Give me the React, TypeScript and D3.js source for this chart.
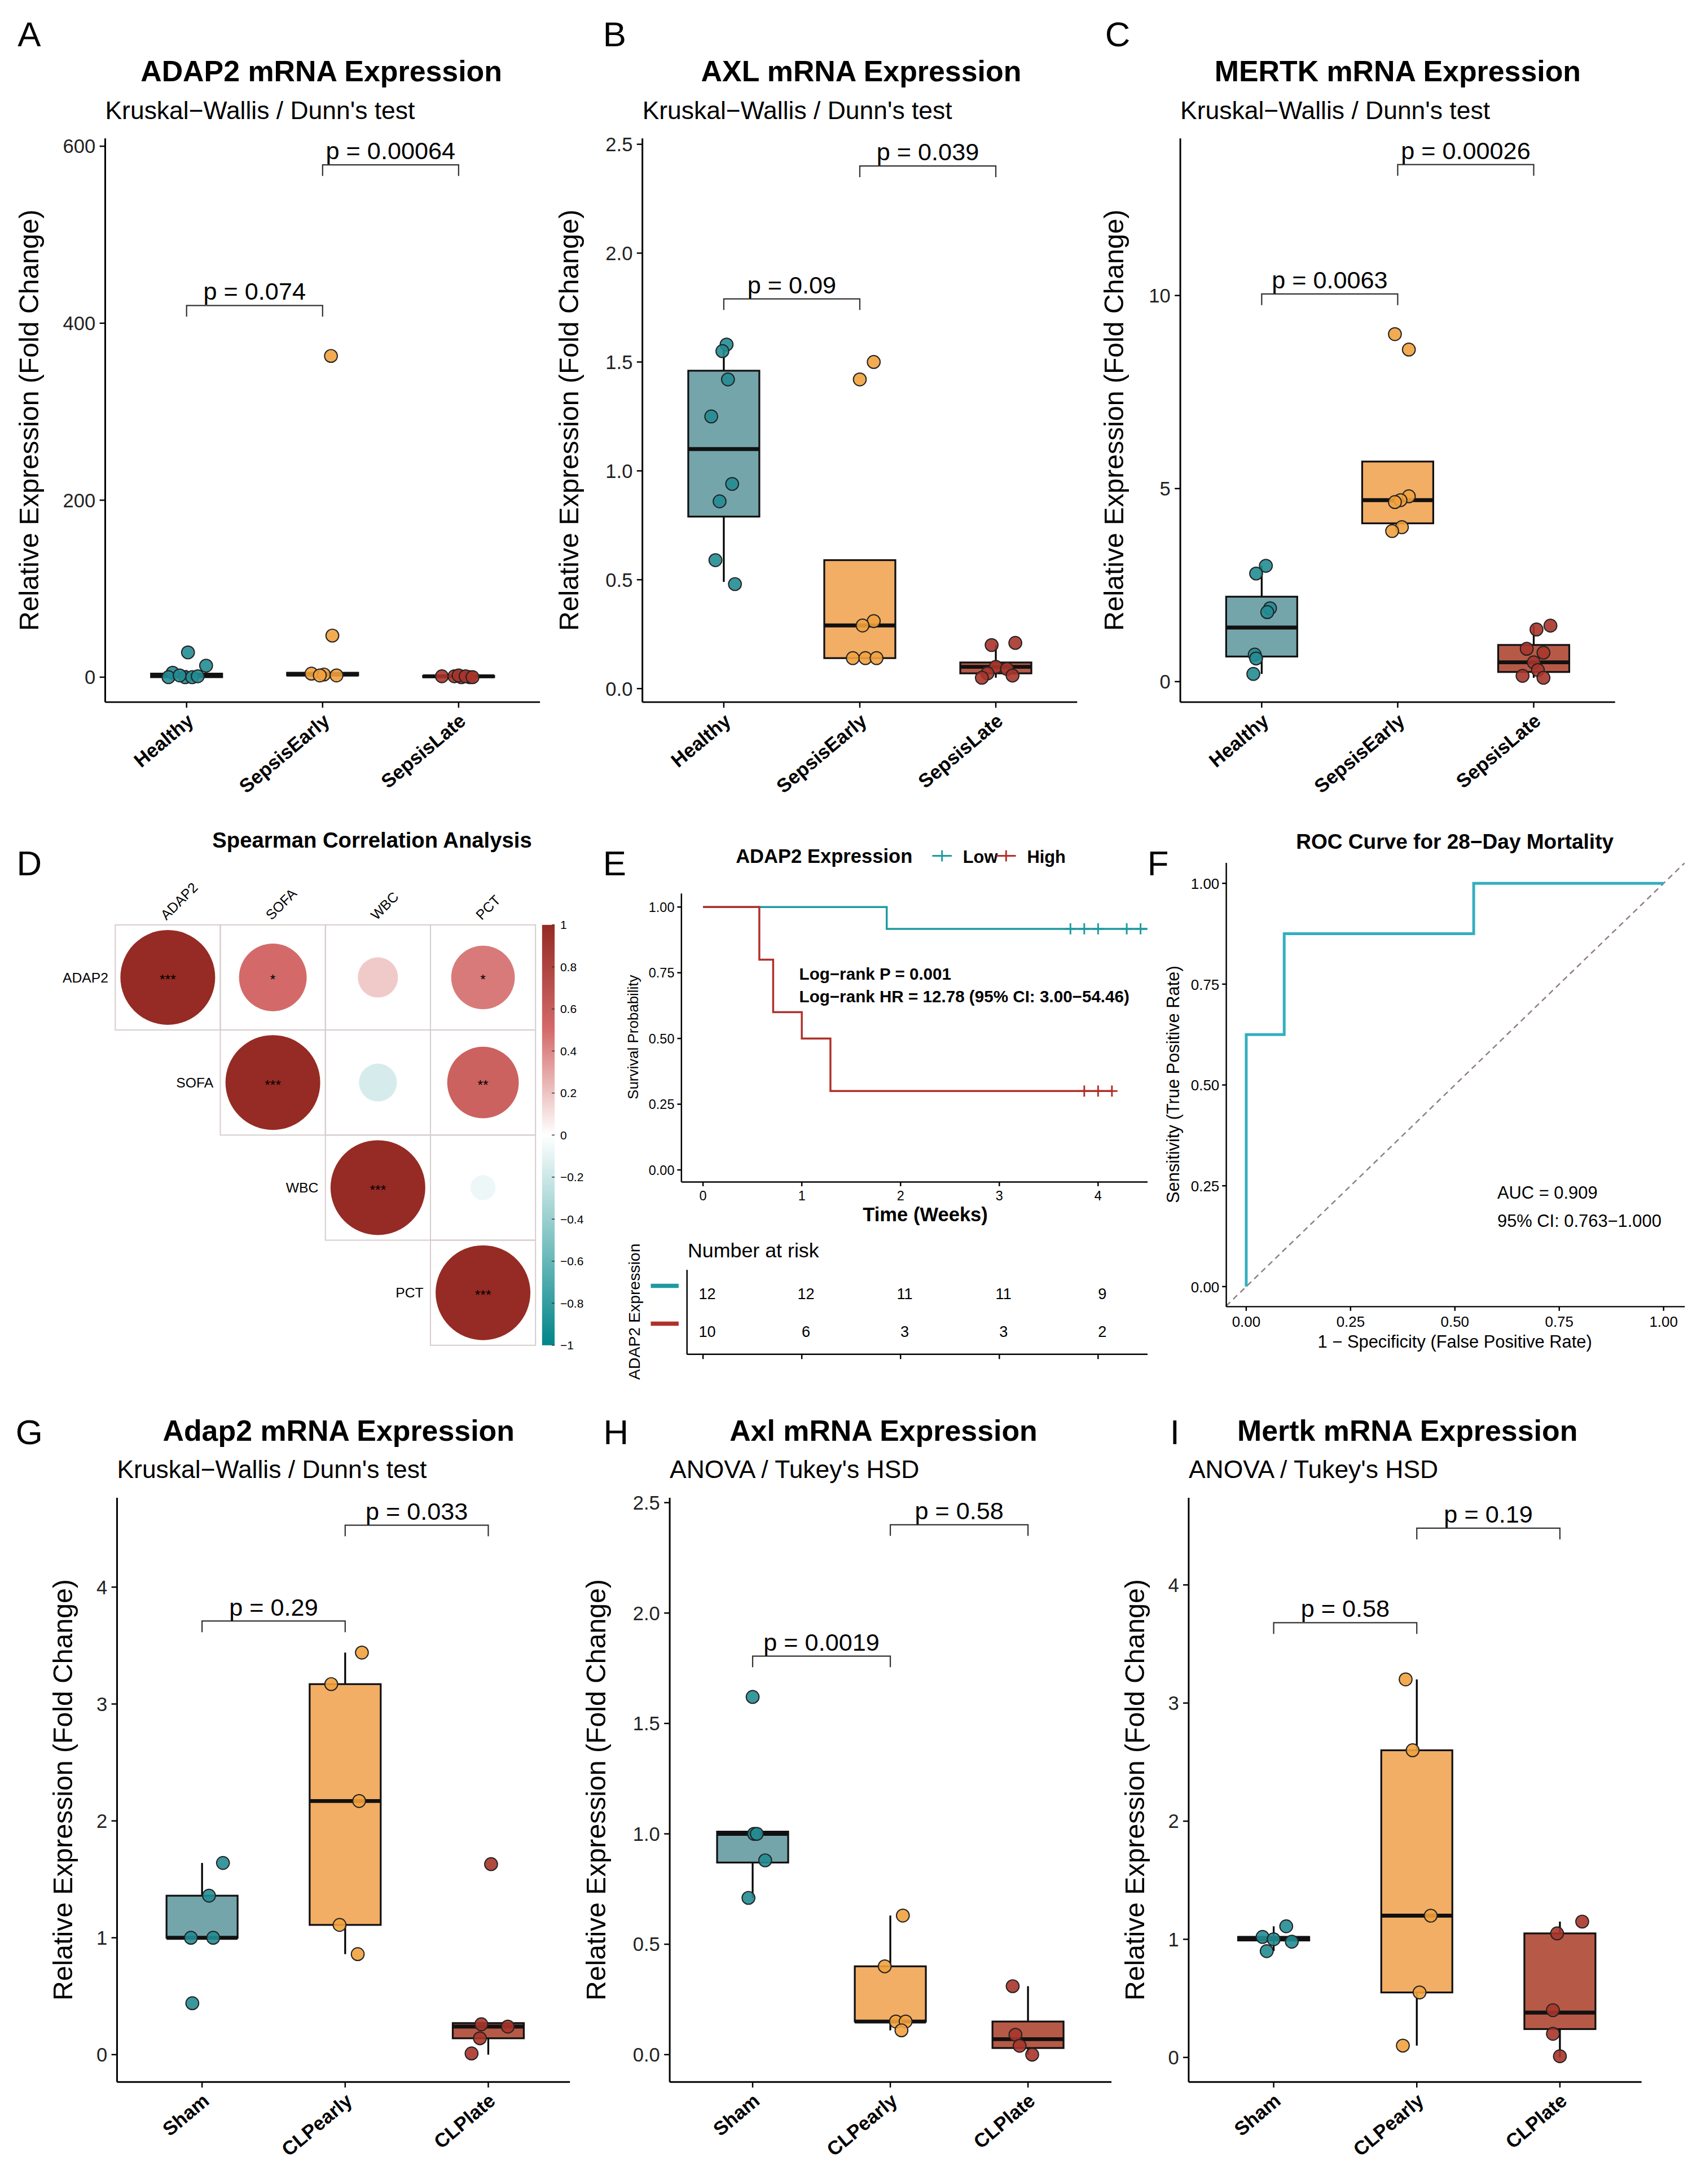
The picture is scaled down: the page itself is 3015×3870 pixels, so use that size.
import React from "react";
import * as d3 from "d3";

const FONT = "Liberation Sans, Arial, Helvetica, sans-serif";
const FILL = ["#74a5ab", "#f2ae65", "#b65a47"];
const PT = ["#248c94", "#f2a23e", "#a8352b"];

// ---------------- data ----------------
const catsHuman = ["Healthy", "SepsisEarly", "SepsisLate"];
const catsMouse = ["Sham", "CLPearly", "CLPlate"];

const adap2HumanPts = [[28, 13, 5, 0, 0, 0, 1, 2], [363, 47, 4, 3, 2, 2], [1, 1, 0, 0, 2, 1, 0]];
const adap2HumanDx = [[1, 14, -10, -13, -1, 4, 8, -5], [6, 7, -8, 1, 10, -2], [-12, -3, 2, 8, 0, 5, 10]];
const adap2HumanBox = [[0, 2, 4, 0, 8], [2, 3, 5, 1, 6], [0, 1, 1.5, 0, 2]];
const axlHumanPts = [[1.58, 1.55, 1.42, 1.25, 0.94, 0.86, 0.59, 0.48], [1.5, 1.42, 0.31, 0.29, 0.14, 0.14, 0.14], [0.21, 0.2, 0.1, 0.09, 0.07, 0.05, 0.06]];
const axlHumanDx = [[2, -1, 3, -9, 6, -3, -6, 8], [10, 0, 10, 2, -5, 4, 12], [14, -3, 0, 8, -6, -10, 12]];
const axlHumanBox = [[0.79, 1.1, 1.46, 0.49, 1.58], [0.14, 0.29, 0.59, 0.14, 0.59], [0.07, 0.1, 0.12, 0.05, 0.2]];
const mertkHumanPts = [[3.0, 2.8, 1.9, 1.8, 0.7, 0.6, 0.2], [9.0, 8.6, 4.8, 4.7, 4.65, 4.0, 3.9], [1.45, 1.35, 0.85, 0.75, 0.5, 0.3, 0.15, 0.1]];
const mertkHumanDx = [[3, -4, 6, 4, -5, -4, -6], [-2, 8, 8, 2, -2, 3, -4], [12, 2, -5, 7, 0, 3, -8, 7]];
const mertkHumanBox = [[0.65, 1.4, 2.2, 0.2, 3.0], [4.1, 4.7, 5.7, 3.9, 5.7], [0.25, 0.5, 0.95, 0.1, 1.45]];

const adap2MousePts = [[1.64, 1.36, 1.0, 1.0, 0.44], [3.44, 3.17, 2.17, 1.11, 0.86], [1.63, 0.26, 0.24, 0.14, 0.01]];
const adap2MouseDx = [[15, 5, -8, 8, -7], [12, -10, 10, -4, 9], [2, -5, 14, -6, -12]];
const adap2MouseBox = [[1.0, 1.0, 1.36, 1.0, 1.64], [1.11, 2.17, 3.17, 0.86, 3.44], [0.14, 0.24, 0.27, 0.0, 0.27]];
const axlMousePts = [[1.62, 1.0, 1.0, 0.88, 0.71], [0.63, 0.4, 0.15, 0.15, 0.11], [0.31, 0.09, 0.04, 0.0]];
const axlMouseDx = [[0, 1, 3, 9, -3], [9, -4, 4, 11, 8], [-11, -9, -6, 3]];
const axlMouseBox = [[0.87, 1.0, 1.01, 0.71, 1.01], [0.15, 0.15, 0.4, 0.11, 0.63], [0.03, 0.07, 0.15, 0.0, 0.31]];
const mertkMousePts = [[1.11, 1.02, 1.0, 0.98, 0.9], [3.2, 2.6, 1.2, 0.55, 0.1], [1.15, 1.05, 0.4, 0.2, 0.01]];
const mertkMouseDx = [[9, -8, 0, 13, -5], [-8, -3, 10, 2, -10], [16, -2, -5, -5, 0]];
const mertkMouseBox = [[0.99, 1.01, 1.02, 0.9, 1.11], [0.55, 1.2, 2.6, 0.1, 3.2], [0.24, 0.38, 1.05, 0.0, 1.15]];

const corrVars = ["ADAP2", "SOFA", "WBC", "PCT"];
const corrValues = [
  [1, 0.51, 0.18, 0.45],
  [0.51, 1, -0.16, 0.57],
  [0.18, -0.16, 1, -0.07],
  [0.45, 0.57, -0.07, 1],
];
const corrStars = [
  ["***", "*", "", "*"],
  ["*", "***", "", "**"],
  ["", "", "***", ""],
  ["*", "**", "", "***"],
];
const colorbarTicks = [1, 0.8, 0.6, 0.4, 0.2, 0, -0.2, -0.4, -0.6, -0.8, -1];

const kmLowTimes = [0, 1.86, 4.5];
const kmLowSurv = [1, 0.917, 0.917];
const kmLowCensor = [3.72, 3.86, 4.0, 4.29, 4.43];
const kmHighTimes = [0, 0.57, 0.71, 1.0, 1.29, 4.14];
const kmHighSurv = [1, 0.8, 0.6, 0.5, 0.3, 0.3];
const kmHighCensor = [3.86, 4.0, 4.14];
const riskTimes = [0, 1, 2, 3, 4];
const riskLow = [12, 12, 11, 11, 9];
const riskHigh = [10, 6, 3, 3, 2];

const rocFpr = [0, 0, 0.091, 0.091, 0.545, 0.545, 1];
const rocTpr = [0, 0.625, 0.625, 0.875, 0.875, 1, 1];
const rocTicks = [0, 0.25, 0.5, 0.75, 1];

// ---------------- components ----------------
type BoxProps = {
  letter: string; letterX: number; title: string; subtitle: string; cats: string[];
  pts: number[][]; dx: number[][]; box: number[][];
  axisX: number; axisTop: number; axisBottom: number; axisLen: number;
  catOff: number; catStep: number;
  y0: number; yTopVal: number; yTopPx: number; ticks: number[]; fmt: (v: number) => string;
  brackets: { a: number; b: number; v: number; label: string }[];
  ylabOff: number; titleX: number; letterY: number;
};

function BoxPanel(p: BoxProps) {
  const y = d3.scaleLinear().domain([0, p.yTopVal]).range([p.y0, p.yTopPx]);
  const x = (i: number) => p.axisX + p.catOff + i * p.catStep;
  const bw = 51;
  return (
    <g fontFamily={FONT}>
      <text x={p.letterX} y={p.letterY} fontSize={25} textAnchor="middle">{p.letter}</text>
      <text x={p.titleX} y={p.axisTop - 41} fontSize={21} fontWeight="bold" textAnchor="middle">{p.title}</text>
      <text x={p.axisX} y={p.axisTop - 14} fontSize={18}>{p.subtitle}</text>
      <line x1={p.axisX} x2={p.axisX} y1={p.axisTop} y2={p.axisBottom} stroke="#000" strokeWidth={1.2} />
      <line x1={p.axisX} x2={p.axisX + p.axisLen} y1={p.axisBottom} y2={p.axisBottom} stroke="#000" strokeWidth={1.2} />
      {p.ticks.map((t) => (
        <g key={t}>
          <line x1={p.axisX - 4} x2={p.axisX} y1={y(t)} y2={y(t)} stroke="#000" />
          <text x={p.axisX - 7} y={y(t) + 5} fontSize={14} textAnchor="end" fill="#222">{p.fmt(t)}</text>
        </g>
      ))}
      <text transform={`translate(${p.axisX - p.ylabOff},${(p.axisTop + p.axisBottom) / 2}) rotate(-90)`} fontSize={19.5} textAnchor="middle">Relative Expression (Fold Change)</text>
      {p.cats.map((c, i) => (
        <g key={c}>
          <line x1={x(i)} x2={x(i)} y1={p.axisBottom} y2={p.axisBottom + 4} stroke="#000" />
          <text transform={`translate(${x(i) + 6},${p.axisBottom + 15}) rotate(-40)`} fontSize={14} fontWeight="bold" textAnchor="end">{c}</text>
        </g>
      ))}
      {p.box.map((b, i) => (
        <g key={i}>
          <line x1={x(i)} x2={x(i)} y1={y(b[3])} y2={y(b[0])} stroke="#000" strokeWidth={1.3} />
          <line x1={x(i)} x2={x(i)} y1={y(b[2])} y2={y(b[4])} stroke="#000" strokeWidth={1.3} />
          <rect x={x(i) - bw / 2} width={bw} y={y(b[2])} height={Math.max(0.5, y(b[0]) - y(b[2]))} fill={FILL[i]} stroke="#111" strokeWidth={1.3} />
          <line x1={x(i) - bw / 2} x2={x(i) + bw / 2} y1={y(b[1])} y2={y(b[1])} stroke="#111" strokeWidth={2.8} />
        </g>
      ))}
      {p.pts.map((arr, i) => arr.map((v, j) => (
        <circle key={i + "-" + j} cx={x(i) + p.dx[i][j]} cy={y(v)} r={4.6} fill={PT[i]} fillOpacity={0.9} stroke="#222" strokeWidth={0.8} />
      )))}
      {p.brackets.map((br, k) => (
        <g key={k}>
          <path d={`M${x(br.a)},${y(br.v) + 8}V${y(br.v)}H${x(br.b)}V${y(br.v) + 8}`} fill="none" stroke="#333" strokeWidth={0.9} />
          <text x={(x(br.a) + x(br.b)) / 2} y={y(br.v) - 4} fontSize={17.5} textAnchor="middle">{br.label}</text>
        </g>
      ))}
    </g>
  );
}

const f1 = (v: number) => d3.format(".1f")(v);
const f0 = (v: number) => String(v);

function CorrPanel() {
  const left = 82.7, top = 663.5, cell = 75.4, maxR = 34;
  const color = d3.scaleLinear<string>().domain([-1, -0.5, 0, 0.5, 1]).range(["#00858a", "#80c3c3", "#ffffff", "#d46b6a", "#952b24"]);
  const cb = d3.scaleLinear().domain([-1, 1]).range([top + 4 * cell, top]);
  return (
    <g fontFamily={FONT}>
      <text x={21} y={628} fontSize={25} textAnchor="middle">D</text>
      <text x={267} y={608} fontSize={15.5} fontWeight="bold" textAnchor="middle">Spearman Correlation Analysis</text>
      <defs>
        <linearGradient id="cbg" x1="0" y1="1" x2="0" y2="0">
          {[-1, -0.5, 0, 0.5, 1].map((v) => <stop key={v} offset={(v + 1) / 2} stopColor={color(v)} />)}
        </linearGradient>
      </defs>
      {corrVars.map((rv, i) => corrVars.map((cv, j) => j < i ? null : (
        <g key={i + "-" + j}>
          <rect x={left + j * cell} y={top + i * cell} width={cell} height={cell} fill="none" stroke="#d6cccc" strokeWidth={0.8} />
          <circle cx={left + (j + 0.5) * cell} cy={top + (i + 0.5) * cell} r={maxR * Math.sqrt(Math.abs(corrValues[i][j]))} fill={color(corrValues[i][j])} />
          {corrStars[i][j] && <text x={left + (j + 0.5) * cell} y={top + (i + 0.5) * cell + 5} fontSize={10} textAnchor="middle">{corrStars[i][j]}</text>}
        </g>
      )))}
      {corrVars.map((v, i) => (
        <g key={v}>
          <text x={left + i * cell - 5} y={top + (i + 0.5) * cell + 3.5} fontSize={10} textAnchor="end">{v}</text>
          <text transform={`translate(${left + (i + 0.5) * cell - 1},${top - 3}) rotate(-45)`} fontSize={10}>{v}</text>
        </g>
      ))}
      <rect x={389} y={top} width={9} height={4 * cell} fill="url(#cbg)" />
      {colorbarTicks.map((t) => (
        <g key={t}>
          <line x1={396} x2={398} y1={cb(t)} y2={cb(t)} stroke="#333" strokeWidth={0.6} />
          <text x={402} y={cb(t) + 3} fontSize={8.5}>{t === 0 ? "0" : d3.format("")(t).replace("-", "\u2212")}</text>
        </g>
      ))}
    </g>
  );
}

function KMPanel() {
  const x = d3.scaleLinear().domain([0, 4]).range([504.5, 788]);
  const y = d3.scaleLinear().domain([0, 1]).range([839.3, 650.7]);
  const line = d3.line<number[]>().x((d) => x(d[0])).y((d) => y(d[1])).curve(d3.curveStepAfter);
  const low = kmLowTimes.map((t, i) => [t, kmLowSurv[i]]);
  const high = kmHighTimes.map((t, i) => [t, kmHighSurv[i]]);
  const LOW = "#1f9aa0", HIGH = "#b0302a";
  const cross = (cx: number, cy: number, c: string, k: string) => (
    <g key={k} stroke={c} strokeWidth={1.2}>
      <line x1={cx - 4} x2={cx + 4} y1={cy} y2={cy} />
      <line x1={cx} x2={cx} y1={cy - 4} y2={cy + 4} />
    </g>
  );
  return (
    <g fontFamily={FONT}>
      <text x={441} y={628} fontSize={25} textAnchor="middle">E</text>
      <text x={528} y={619} fontSize={14} fontWeight="bold">ADAP2 Expression</text>
      {cross(676, 614, LOW, "l1")}
      <line x1={669} x2={683} y1={614} y2={614} stroke={LOW} strokeWidth={1.2} />
      <text x={691} y={619} fontSize={12.5} fontWeight="bold">Low</text>
      {cross(722, 614, HIGH, "h1")}
      <line x1={715} x2={729} y1={614} y2={614} stroke={HIGH} strokeWidth={1.2} />
      <text x={737} y={619} fontSize={12.5} fontWeight="bold">High</text>
      <line x1={489} x2={489} y1={641} y2={848} stroke="#000" />
      <line x1={489} x2={823.5} y1={848} y2={848} stroke="#000" />
      {[0, 0.25, 0.5, 0.75, 1].map((t) => (
        <g key={t}>
          <line x1={486} x2={489} y1={y(t)} y2={y(t)} stroke="#000" />
          <text x={484} y={y(t) + 3.5} fontSize={9.5} textAnchor="end">{d3.format(".2f")(t)}</text>
        </g>
      ))}
      {riskTimes.map((t) => (
        <g key={t}>
          <line x1={x(t)} x2={x(t)} y1={848} y2={851} stroke="#000" />
          <text x={x(t)} y={861} fontSize={9.5} textAnchor="middle">{t}</text>
        </g>
      ))}
      <text transform="translate(458,744) rotate(-90)" fontSize={10.5} textAnchor="middle">Survival Probability</text>
      <text x={664} y={876} fontSize={14} fontWeight="bold" textAnchor="middle">Time (Weeks)</text>
      <path d={line(low as any) || ""} fill="none" stroke={LOW} strokeWidth={1.4} />
      <path d={line(high as any) || ""} fill="none" stroke={HIGH} strokeWidth={1.4} />
      {kmLowCensor.map((t, i) => cross(x(t), y(0.917), LOW, "lc" + i))}
      {kmHighCensor.map((t, i) => cross(x(t), y(0.3), HIGH, "hc" + i))}
      <text x={573.5} y={703} fontSize={12} fontWeight="bold">Log−rank P = 0.001</text>
      <text x={573.5} y={719} fontSize={12} fontWeight="bold">Log−rank HR = 12.78 (95% CI: 3.00−54.46)</text>
      <text x={493.5} y={902} fontSize={14.5}>Number at risk</text>
      <line x1={493} x2={493} y1={911} y2={971.6} stroke="#000" />
      <line x1={493} x2={823.5} y1={971.6} y2={971.6} stroke="#000" />
      {riskTimes.map((t, i) => (
        <g key={t}>
          <line x1={x(t)} x2={x(t)} y1={971.6} y2={975} stroke="#000" />
          <text x={x(t) + 3} y={932} fontSize={11} textAnchor="middle">{riskLow[i]}</text>
          <text x={x(t) + 3} y={959} fontSize={11} textAnchor="middle">{riskHigh[i]}</text>
        </g>
      ))}
      <line x1={467} x2={487} y1={922.5} y2={922.5} stroke={LOW} strokeWidth={3} />
      <line x1={467} x2={487} y1={949.6} y2={949.6} stroke={HIGH} strokeWidth={3} />
      <text transform="translate(459,941) rotate(-90)" fontSize={11.5} textAnchor="middle">ADAP2 Expression</text>
    </g>
  );
}

function RocPanel() {
  const x = d3.scaleLinear().domain([0, 1]).range([894.3, 1193.8]);
  const y = d3.scaleLinear().domain([0, 1]).range([923, 633.7]);
  const pts = rocFpr.map((f, i) => [f, rocTpr[i]]);
  const line = d3.line<number[]>().x((d) => x(d[0])).y((d) => y(d[1]));
  return (
    <g fontFamily={FONT}>
      <text x={831} y={628} fontSize={25} textAnchor="middle">F</text>
      <text x={1044} y={609} fontSize={15} fontWeight="bold" textAnchor="middle">ROC Curve for 28−Day Mortality</text>
      <line x1={x(-0.048)} y1={y(-0.048)} x2={x(1.05)} y2={y(1.05)} stroke="#8c7e80" strokeDasharray="4,3" strokeWidth={1} />
      <path d={line(pts as any) || ""} fill="none" stroke="#34aebf" strokeWidth={2} />
      <line x1={880} x2={880} y1={619} y2={937.4} stroke="#000" />
      <line x1={880} x2={1209} y1={937.4} y2={937.4} stroke="#000" />
      {rocTicks.map((t) => (
        <g key={t}>
          <line x1={877} x2={880} y1={y(t)} y2={y(t)} stroke="#000" />
          <text x={875} y={y(t) + 4} fontSize={10.5} textAnchor="end">{d3.format(".2f")(t)}</text>
          <line x1={x(t)} x2={x(t)} y1={937.4} y2={940.4} stroke="#000" />
          <text x={x(t)} y={952} fontSize={10.5} textAnchor="middle">{d3.format(".2f")(t)}</text>
        </g>
      ))}
      <text transform="translate(846,778) rotate(-90)" fontSize={12.5} textAnchor="middle">Sensitivity (True Positive Rate)</text>
      <text x={1044} y={967} fontSize={12.5} textAnchor="middle">1 − Specificity (False Positive Rate)</text>
      <text x={1074.5} y={860} fontSize={12.5}>AUC = 0.909</text>
      <text x={1074.5} y={880} fontSize={12.5}>95% CI: 0.763−1.000</text>
    </g>
  );
}

export default function App() {
  const top = { axisTop: 99.3, axisBottom: 503.7, axisLen: 312, catOff: 58.4, catStep: 97.6, letterY: 33 };
  const bot = { axisTop: 1074.5, axisBottom: 1493.6, axisLen: 325, catOff: 61, catStep: 102.7, letterY: 1036 };
  return (
    <svg width={3015} height={3870} viewBox="0 0 1220.65 1566.8" style={{ position: "absolute", left: 0, top: 0, background: "#fff" }}>
      <rect width={1220.65} height={1566.8} fill="#fff" />
      <BoxPanel letter="A" letterX={21} title="ADAP2 mRNA Expression" subtitle="Kruskal−Wallis / Dunn's test" cats={catsHuman}
        pts={adap2HumanPts} dx={adap2HumanDx} box={adap2HumanBox} axisX={75.5} {...top}
        y0={485.8} yTopVal={600} yTopPx={104.9} ticks={[0, 200, 400, 600]} fmt={f0}
        brackets={[{ a: 0, b: 1, v: 420, label: "p = 0.074" }, { a: 1, b: 2, v: 579, label: "p = 0.00064" }]} ylabOff={48} titleX={230.6} />
      <BoxPanel letter="B" letterX={441} title="AXL mRNA Expression" subtitle="Kruskal−Wallis / Dunn's test" cats={catsHuman}
        pts={axlHumanPts} dx={axlHumanDx} box={axlHumanBox} axisX={461} {...top}
        y0={494} yTopVal={2.5} yTopPx={103.5} ticks={[0, 0.5, 1, 1.5, 2, 2.5]} fmt={f1}
        brackets={[{ a: 0, b: 1, v: 1.79, label: "p = 0.09" }, { a: 1, b: 2, v: 2.4, label: "p = 0.039" }]} ylabOff={46} titleX={618} />
      <BoxPanel letter="C" letterX={802} title="MERTK mRNA Expression" subtitle="Kruskal−Wallis / Dunn's test" cats={catsHuman}
        pts={mertkHumanPts} dx={mertkHumanDx} box={mertkHumanBox} axisX={847} {...top}
        y0={489} yTopVal={10} yTopPx={212} ticks={[0, 5, 10]} fmt={f0}
        brackets={[{ a: 0, b: 1, v: 10.04, label: "p = 0.0063" }, { a: 1, b: 2, v: 13.39, label: "p = 0.00026" }]} ylabOff={41} titleX={1003} />
      <CorrPanel />
      <KMPanel />
      <RocPanel />
      <BoxPanel letter="G" letterX={21} title="Adap2 mRNA Expression" subtitle="Kruskal−Wallis / Dunn's test" cats={catsMouse}
        pts={adap2MousePts} dx={adap2MouseDx} box={adap2MouseBox} axisX={84} {...bot}
        y0={1474} yTopVal={4} yTopPx={1138.6} ticks={[0, 1, 2, 3, 4]} fmt={f0}
        brackets={[{ a: 0, b: 1, v: 3.71, label: "p = 0.29" }, { a: 1, b: 2, v: 4.53, label: "p = 0.033" }]} ylabOff={32} titleX={243} />
      <BoxPanel letter="H" letterX={442} title="Axl mRNA Expression" subtitle="ANOVA / Tukey's HSD" cats={catsMouse}
        pts={axlMousePts} dx={axlMouseDx} box={axlMouseBox} axisX={480.6} {...bot} catOff={59.5} catStep={98.8} axisLen={317}
        y0={1474} yTopVal={2.5} yTopPx={1078} ticks={[0, 0.5, 1, 1.5, 2, 2.5]} fmt={f1}
        brackets={[{ a: 0, b: 1, v: 1.805, label: "p = 0.0019" }, { a: 1, b: 2, v: 2.4, label: "p = 0.58" }]} ylabOff={46} titleX={634} />
      <BoxPanel letter="I" letterX={843} title="Mertk mRNA Expression" subtitle="ANOVA / Tukey's HSD" cats={catsMouse}
        pts={mertkMousePts} dx={mertkMouseDx} box={mertkMouseBox} axisX={853} {...bot}
        y0={1476} yTopVal={4} yTopPx={1137} ticks={[0, 1, 2, 3, 4]} fmt={f0}
        brackets={[{ a: 0, b: 1, v: 3.68, label: "p = 0.58" }, { a: 1, b: 2, v: 4.48, label: "p = 0.19" }]} ylabOff={32} titleX={1010} />
    </svg>
  );
}
